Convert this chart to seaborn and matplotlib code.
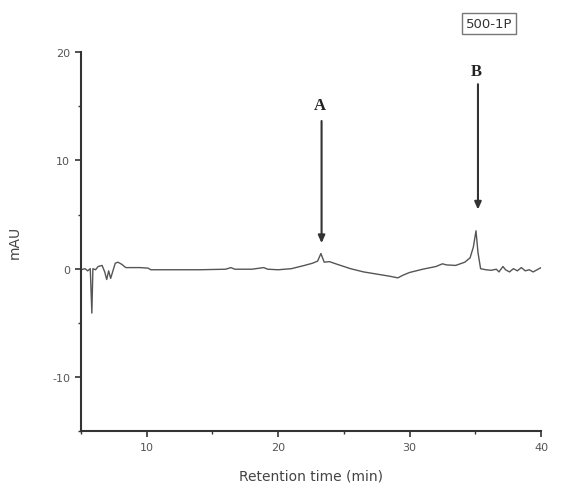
import matplotlib
matplotlib.use("Agg")
import matplotlib.pyplot as plt
from matplotlib.ticker import MultipleLocator
import seaborn as sns
import pandas as pd

# Retention time (min) and absorbance (mAU)
time_min = [5.0, 5.3, 5.5, 5.7, 5.82, 5.9, 6.1, 6.3, 6.6, 6.8, 6.95, 7.1, 7.25, 7.4, 7.6,
            7.8, 8.1, 8.4, 8.8, 9.5, 10.1, 10.3, 12.0, 14.0, 16.0, 16.4, 16.7, 18.0, 18.9,
            19.2, 20.0, 21.0, 22.0, 22.6, 23.0, 23.25, 23.5, 23.9, 24.5, 25.5, 26.5, 27.5,
            28.5, 29.1, 29.5, 30.0, 31.0, 32.0, 32.5, 32.8, 33.5, 34.2, 34.6, 34.85, 35.05,
            35.2, 35.4, 35.8, 36.2, 36.6, 36.8, 37.1, 37.3, 37.6, 37.9, 38.2, 38.5, 38.8,
            39.1, 39.4, 39.7, 40.0]
mau = [-0.1, 0.0, -0.2, 0.0, -4.1, 0.0, -0.1, 0.2, 0.3, -0.3, -1.0, -0.2, -0.9, -0.3, 0.5,
       0.6, 0.4, 0.1, 0.1, 0.1, 0.05, -0.1, -0.1, -0.1, -0.05, 0.1, -0.05, -0.05, 0.1,
       -0.05, -0.1, 0.0, 0.3, 0.5, 0.7, 1.4, 0.6, 0.65, 0.4, 0.0, -0.3, -0.5,
       -0.7, -0.85, -0.6, -0.35, -0.05, 0.2, 0.45, 0.35, 0.3, 0.6, 1.0, 2.0, 3.5,
       1.5, 0.0, -0.1, -0.15, -0.05, -0.3, 0.2, -0.1, -0.3, 0.0, -0.2, 0.1, -0.2,
       -0.1, -0.3, -0.1, 0.1]

peak_labels = ["A", "B"]
peak_x = [23.3, 35.2]
peak_tip_y = [2.1, 5.2]
peak_tail_y = [13.9, 17.3]
peak_text_y = [15.1, 18.3]

x_ticks = [10, 20, 30, 40]
y_ticks = [-10, 0, 10, 20]
sample_name = "500-1P"

df = pd.DataFrame({"time": time_min, "mAU": mau})

sns.set_style("ticks")
plt.rcParams["axes.unicode_minus"] = False
fig = plt.figure(figsize=(5.63, 5.02), dpi=100)
ax = fig.add_axes([0.144, 0.1394, 0.817, 0.7546])

sns.lineplot(data=df, x="time", y="mAU", ax=ax, color="#555555", linewidth=1.0)

ax.set_xlim(5, 40)
ax.set_ylim(-15, 20)
ax.set_xticks(x_ticks)
ax.set_yticks(y_ticks)
ax.xaxis.set_minor_locator(MultipleLocator(5))
ax.yaxis.set_minor_locator(MultipleLocator(5))
sns.despine(ax=ax)
for s in ["left", "bottom"]:
    ax.spines[s].set_color("#333333")
    ax.spines[s].set_linewidth(1.5)
ax.tick_params(axis="both", which="major", direction="out", length=4, width=1.2,
               color="#333333", labelsize=8, labelcolor="#555555", pad=4)
ax.tick_params(axis="both", which="minor", direction="out", length=2.5, width=1.0,
               color="#333333")
ax.set_xlabel("Retention time (min)", fontsize=10, color="#444444", labelpad=12)
ax.set_ylabel("mAU", fontsize=10, color="#444444", labelpad=22)

for lab, px, tip, tail, ty in zip(peak_labels, peak_x, peak_tip_y, peak_tail_y, peak_text_y):
    ax.annotate("", xy=(px, tip), xytext=(px, tail),
                arrowprops=dict(arrowstyle="-|>,head_length=0.45,head_width=0.2",
                                color="#333333", lw=1.5))
    ax.text(px - 0.15, ty, lab, ha="center", va="center", fontsize=12,
            fontweight="bold", family="Liberation Serif", color="#222222")

fig.text(0.869, 0.952, sample_name, ha="center", va="center", fontsize=9.5,
         color="#333333",
         bbox=dict(boxstyle="square,pad=0.3", facecolor="white", edgecolor="#777777", lw=1))

fig.savefig("out.png", dpi=100)
